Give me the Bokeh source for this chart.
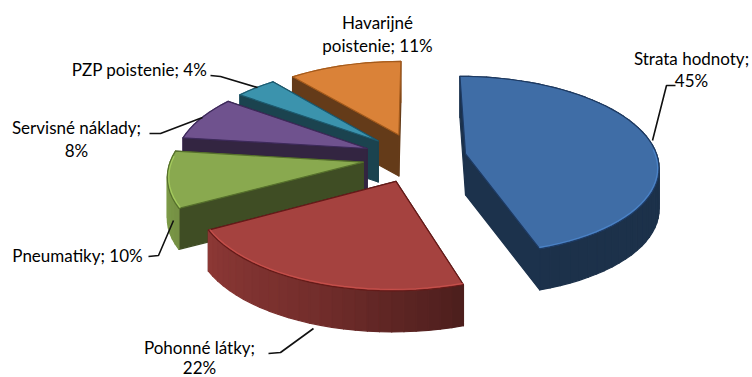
import numpy as np
from bokeh.embed import file_html
from bokeh.models import Range1d
from bokeh.plotting import figure
from bokeh.resources import INLINE
from bokeh.core.properties import value

# Cost shares, clockwise from the top of the pie
names = ["Strata hodnoty", "Pohonné látky", "Pneumatiky", "Servisné náklady", "PZP poistenie", "Havarijné poistenie"]
shares = [45, 22, 10, 8, 4, 11]
tops = ["#3f6da6", "#a5423f", "#89a94f", "#6f528e", "#3b93ad", "#da8238"]
edges = ["#1d3a63", "#651a18", "#56702c", "#3d2a5a", "#1d5a6e", "#a35a1c"]
pull_out = [0.26, 0.28, 0.28, 0.28, 0.28, 0.28]

# Text placement: line break position, centre x, y of the first row, row spacing
label_layout = [
    (15, 691, 58, 22),
    (14, 199, 347, 19.5),
    (None, 77, 255, 22),
    (17, 76, 127, 23),
    (None, 139, 69, 22),
    (9, 377, 22, 23),
]

# Leader lines running from each slice towards its text
leaders = [
    ([652, 666, 675], [140, 85, 85]),
    ([313, 280, 268], [328, 352, 353]),
    ([173, 158, 148], [220, 255, 256]),
    ([202, 160, 149], [117, 133, 133]),
    ([257, 220, 210], [87, 76, 75]),
]

# Projection of the tilted pie onto the page
CX, CY = 416, 157
AX, BY, PERSP = 192, 88.5, 0.13
DEPTH = 41
START = 0.0


def project(u, v):
    w = 1 + PERSP * v
    return CX + AX * u / w, CY - BY * v / w


def shade(color, f):
    r, g, b = (min(255, int(int(color[i:i + 2], 16) * f)) for i in (1, 3, 5))
    return "#%02x%02x%02x" % (r, g, b)


def wall_tone(deg):
    return float(np.interp(deg % 360, [0, 90, 160, 200, 240, 275, 360], [0.5, 0.45, 0.45, 0.7, 0.85, 1.0, 1.0]))


xs, ys, fills, lines = [], [], [], []
rim_x, rim_y, rim_c = [], [], []
fractions = np.array(shares) / sum(shares)
bounds = START + np.concatenate([[0], np.cumsum(fractions)]) * 360

# Painter's order: rear slices first, then forward to the large front ones
for idx in [5, 4, 3, 2, 1, 0]:
    a0, a1 = bounds[idx], bounds[idx + 1]
    mid = np.radians((a0 + a1) / 2)
    du, dv = pull_out[idx] * np.sin(mid), pull_out[idx] * np.cos(mid)
    angles = np.linspace(a0, a1, max(4, int((a1 - a0) / 3) + 1))
    rad = np.radians(angles)
    au, av = du + np.sin(rad), dv + np.cos(rad)
    ax_, ay_ = project(au, av)
    ox, oy = project(np.array([du]), np.array([dv]))
    ox, oy = float(ox[0]), float(oy[0])
    base = tops[idx]

    walls = []
    flat = shade(base, 0.46)
    walls.append((dv + np.cos(rad[0]) / 2, [ox, ax_[0], ax_[0], ox], [oy, ay_[0], ay_[0] + DEPTH, oy + DEPTH], flat))
    walls.append((dv + np.cos(rad[-1]) / 2, [ox, ax_[-1], ax_[-1], ox], [oy, ay_[-1], ay_[-1] + DEPTH, oy + DEPTH], flat))
    for i in range(len(rad) - 1):
        tone = shade(base, wall_tone((angles[i] + angles[i + 1]) / 2))
        walls.append((
            (av[i] + av[i + 1]) / 2,
            [ax_[i], ax_[i + 1], ax_[i + 1], ax_[i]],
            [ay_[i], ay_[i + 1], ay_[i + 1] + DEPTH, ay_[i] + DEPTH],
            tone,
        ))
    for _, wx, wy, col in sorted(walls, key=lambda t: -t[0]):
        xs.append(wx)
        ys.append(wy)
        fills.append(col)
        lines.append(col)

    xs.append([ox] + list(ax_))
    ys.append([oy] + list(ay_))
    fills.append(base)
    lines.append(edges[idx])

    # Pale bevel along the front part of the top face's rim
    front = np.cos(rad) < 0.1
    if front.sum() > 1:
        rim_x.append(list(ax_[front] - 1.5 * np.sin(rad[front])))
        rim_y.append(list(ay_[front] + 1.5 * np.cos(rad[front])))
        rim_c.append(shade(base, 1.25))

p = figure(
    width=752, height=377, output_backend="svg", toolbar_location=None,
    x_range=Range1d(0, 752), y_range=Range1d(377, 0), min_border=0,
    outline_line_color=None, background_fill_color="white", border_fill_color="white",
)
p.axis.visible = False
p.grid.visible = False

p.patches(xs, ys, fill_color=fills, line_color=lines, line_width=1.2, line_join="round")
p.multi_line(rim_x, rim_y, line_color=rim_c, line_width=1.2, line_alpha=0.8)

lx = [l[0] for l in leaders]
ly = [l[1] for l in leaders]
p.multi_line(lx, ly, line_color="#111111", line_width=1.6)

tx, ty, tt = [], [], []
for name, share, (brk, cx, cy, gap) in zip(names, shares, label_layout):
    full = f"{name}; {share}%"
    parts = [full] if brk is None else [full[:brk].strip(), full[brk:].strip()]
    for row, part in enumerate(parts):
        tx.append(cx)
        ty.append(cy + row * gap)
        tt.append(part)

p.text(tx, ty, text=tt, text_font=value("Lato"), text_font_size="17px", text_color="#000000",
       text_align="center", text_baseline="middle")

open("out.html", "w").write(file_html(p, INLINE))
